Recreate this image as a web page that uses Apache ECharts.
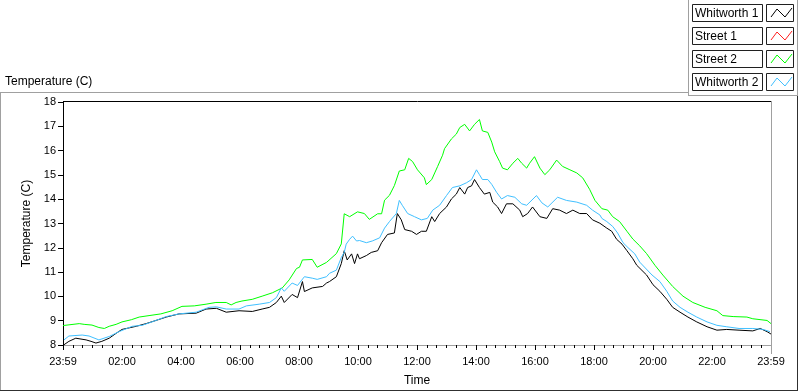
<!DOCTYPE html>
<html>
<head>
<meta charset="utf-8">
<script src="https://cdn.jsdelivr.net/npm/echarts@6/dist/echarts.min.js"></script>
<style>
html,body{margin:0;padding:0;background:#fff;}
#chart{width:800px;height:392px;}
</style>
</head>
<body>
<div id="chart"></div>
<script>
// ---- data (minutes since 23:59, temperature in C) ----
const xTickLabels = ['23:59','02:00','04:00','06:00','08:00','10:00','12:00','14:00','16:00','18:00','20:00','22:00','23:59'];
const seriesNames = ['Whitworth 1','Street 1','Street 2','Whitworth 2'];
const seriesColors = ['#000000','#ff2020','#00ff00','#40c0ff'];

const whitworth1 = [[2,8.01],[12,8.15],[26,8.28],[47,8.21],[57,8.15],[67,8.08],[79,8.15],[94,8.28],[108,8.48],[120,8.64],[149,8.77],[169,8.88],[189,9.01],[210,9.15],[236,9.28],[271,9.31],[291,9.48],[312,9.51],[332,9.35],[358,9.41],[385,9.38],[405,9.48],[420,9.55],[434,9.75],[444,10.01],[450,9.75],[466,10.08],[477,9.95],[487,10.61],[491,10.2],[507,10.35],[528,10.41],[536,10.55],[542,10.61],[556,10.81],[566,11.35],[572,11.88],[578,11.5],[587,11.75],[593,11.35],[599,11.75],[603,11.55],[617,11.68],[627,11.81],[640,11.88],[648,12.21],[660,12.55],[674,12.61],[680,13.41],[688,13.15],[695,12.75],[709,12.68],[719,12.55],[729,12.68],[739,12.68],[750,13.28],[756,13.08],[766,13.41],[780,13.68],[790,14.01],[800,14.21],[807,14.48],[817,14.21],[823,14.48],[831,14.55],[837,14.81],[841,14.88],[847,14.48],[857,14.21],[868,14.28],[874,13.88],[884,13.68],[892,13.41],[902,13.81],[915,13.81],[929,13.55],[935,13.28],[945,13.41],[955,13.68],[970,13.28],[984,13.21],[996,13.61],[1010,13.55],[1024,13.41],[1037,13.55],[1051,13.41],[1065,13.41],[1077,13.15],[1092,13.01],[1106,12.81],[1116,12.68],[1126,12.35],[1137,12.15],[1147,11.88],[1159,11.55],[1167,11.28],[1187,10.88],[1200,10.48],[1214,10.21],[1228,9.88],[1240,9.55],[1255,9.35],[1271,9.15],[1289,8.95],[1310,8.75],[1330,8.61],[1350,8.64],[1375,8.61],[1403,8.58],[1418,8.68],[1432,8.55],[1440,8.45]];

const street1 = [];

const street2 = [[0,8.8],[33,8.88],[37,8.95],[43,8.85],[59,8.82],[73,8.72],[84,8.68],[94,8.77],[108,8.85],[120,8.95],[139,9.04],[155,9.15],[175,9.21],[199,9.28],[222,9.41],[242,9.59],[267,9.61],[291,9.68],[311,9.75],[332,9.75],[342,9.65],[352,9.75],[364,9.81],[385,9.88],[405,10.01],[426,10.15],[446,10.35],[460,10.68],[475,11.15],[481,11.2],[487,11.5],[507,11.52],[517,11.2],[536,11.4],[556,11.76],[566,12.16],[572,13.4],[583,13.28],[599,13.48],[613,13.41],[623,13.17],[640,13.4],[648,13.4],[654,13.96],[664,14.16],[674,14.56],[684,15.16],[695,15.21],[703,15.68],[711,15.55],[721,15.21],[735,14.88],[739,14.6],[750,14.81],[756,15.08],[762,15.35],[772,15.81],[776,16.08],[790,16.48],[800,16.68],[807,16.95],[817,17.08],[827,16.81],[837,17.08],[847,17.28],[853,16.81],[864,16.75],[872,16.35],[878,15.95],[888,15.55],[894,15.28],[904,15.21],[915,15.48],[925,15.68],[933,15.48],[943,15.28],[949,15.48],[959,15.75],[970,15.28],[980,15.01],[990,15.21],[1004,15.61],[1016,15.35],[1031,15.21],[1045,15.08],[1057,14.88],[1071,14.41],[1082,13.95],[1096,13.61],[1108,13.55],[1118,13.28],[1132,13.08],[1147,12.68],[1159,12.36],[1173,12.08],[1187,11.76],[1204,11.28],[1220,10.88],[1240,10.41],[1261,10.01],[1281,9.75],[1306,9.55],[1330,9.41],[1342,9.21],[1363,9.17],[1391,9.15],[1403,9.08],[1432,9.01],[1440,8.88]];

const whitworth2 = [[2,8.21],[12,8.37],[39,8.41],[53,8.37],[73,8.21],[94,8.35],[114,8.55],[141,8.77],[161,8.81],[189,9.01],[210,9.17],[236,9.28],[271,9.35],[297,9.55],[312,9.57],[332,9.48],[358,9.48],[373,9.61],[399,9.68],[420,9.75],[434,9.95],[444,10.35],[450,10.21],[466,10.55],[477,10.45],[491,10.81],[507,10.75],[517,10.7],[536,10.81],[542,10.95],[556,11.08],[566,11.6],[572,11.81],[576,12.15],[583,12.35],[589,12.48],[597,12.28],[603,12.3],[617,12.21],[629,12.28],[644,12.41],[654,12.81],[664,13.08],[678,13.41],[684,13.95],[690,13.75],[701,13.41],[715,13.28],[729,13.15],[741,13.21],[752,13.55],[766,13.75],[780,14.15],[792,14.48],[807,14.55],[821,14.68],[831,14.81],[841,15.21],[847,15.01],[853,14.81],[864,14.81],[872,14.61],[882,14.28],[892,14.01],[904,14.15],[919,14.08],[933,13.81],[943,13.75],[963,14.15],[974,13.85],[986,13.68],[1006,14.08],[1024,13.95],[1045,13.88],[1065,13.75],[1077,13.55],[1092,13.35],[1096,13.21],[1106,13.08],[1118,12.88],[1128,12.61],[1139,12.21],[1149,12.01],[1163,11.75],[1173,11.41],[1198,10.88],[1214,10.61],[1228,10.21],[1240,9.81],[1255,9.55],[1271,9.35],[1289,9.15],[1310,8.95],[1330,8.81],[1350,8.75],[1375,8.68],[1403,8.68],[1424,8.64],[1438,8.55]];

const allData = [whitworth1, street1, street2, whitworth2];

// ---- chart ----
const FONT = '"Liberation Sans", Arial, sans-serif';
const chart = echarts.init(document.getElementById('chart'), null, {renderer:'canvas'});

const PL = 63, PT = 102, PR = 771, PB = 353; // plot frame
const graphics = [
  // outer panel frame
  {type:'line', shape:{x1:0, y1:92.5, x2:688, y2:92.5}, style:{stroke:'#a0a0a0', lineWidth:1}},
  {type:'line', shape:{x1:0.5, y1:92, x2:0.5, y2:391}, style:{stroke:'#a0a0a0', lineWidth:1}},
  {type:'line', shape:{x1:0, y1:390.5, x2:798, y2:390.5}, style:{stroke:'#303030', lineWidth:1}},
  {type:'line', shape:{x1:797.5, y1:95, x2:797.5, y2:391}, style:{stroke:'#303030', lineWidth:1}},
  // legend panel frame
  {type:'line', shape:{x1:688.5, y1:0, x2:688.5, y2:95}, style:{stroke:'#a0a0a0', lineWidth:1}},
  {type:'line', shape:{x1:688, y1:95.5, x2:798, y2:95.5}, style:{stroke:'#a0a0a0', lineWidth:1}},
  {type:'line', shape:{x1:797.5, y1:0, x2:797.5, y2:95}, style:{stroke:'#a0a0a0', lineWidth:1}},
  // plot frame top / right
  {type:'line', shape:{x1:PL, y1:PT-0.5, x2:PR+1, y2:PT-0.5}, style:{stroke:'#000', lineWidth:1}, z:10},
  {type:'line', shape:{x1:PR+0.5, y1:PT-1, x2:PR+0.5, y2:PB+1}, style:{stroke:'#a0a0a0', lineWidth:1}, z:10}
];
seriesNames.forEach((name, i) => {
  const top = 4 + 23 * i;
  graphics.push({type:'rect', shape:{x:692.5, y:top+0.5, width:70, height:17}, style:{fill:'#fff', stroke:'#202020', lineWidth:1}});
  graphics.push({type:'text', style:{text:name, x:695, y:top+9.5, fill:'#000', font:'12px ' + FONT, textVerticalAlign:'middle', verticalAlign:'middle'}});
  graphics.push({type:'rect', shape:{x:766.5, y:top+0.5, width:27, height:17}, style:{fill:'#fff', stroke:'#202020', lineWidth:1}});
  graphics.push({type:'polyline', shape:{points:[[771,top+13],[777,top+5],[785,top+13],[792,top+4]]}, style:{stroke:seriesColors[i], fill:null, lineWidth:1}});
});

const option = {
  animation: false,
  backgroundColor: '#ffffff',
  textStyle: {fontFamily: FONT},
  title: {
    text: 'Temperature (C)', left: 0, top: 71,
    textStyle: {fontSize: 12, fontWeight: 'normal', color: '#000', fontFamily: FONT}
  },
  legend: {show: false, data: seriesNames},
  grid: {left: PL, top: PT, right: 800 - PR, bottom: 392 - PB, containLabel: false},
  xAxis: {
    type: 'value', min: 0, max: 1440, interval: 120,
    name: 'Time', nameLocation: 'middle', nameGap: 30,
    nameTextStyle: {fontSize: 12, color: '#000', fontFamily: FONT},
    axisLine: {show: true, onZero: false, lineStyle: {color: '#a0a0a0', width: 1}},
    axisTick: {show: true, length: 5, lineStyle: {color: '#000'}},
    minorTick: {show: true, splitNumber: 6, length: 3, lineStyle: {color: '#000'}},
    axisLabel: {
      show: true, margin: 11, fontSize: 11, color: '#000', fontFamily: FONT,
      showMinLabel: true, showMaxLabel: true,
      formatter: v => xTickLabels[Math.round(v / 120)]
    },
    splitLine: {show: false}
  },
  yAxis: {
    type: 'value', min: 8, max: 18, interval: 1,
    name: 'Temperature (C)', nameLocation: 'middle', nameGap: 22,
    nameTextStyle: {fontSize: 12, color: '#000', fontFamily: FONT},
    axisLine: {show: true, lineStyle: {color: '#000', width: 1}},
    axisTick: {show: true, length: 5, lineStyle: {color: '#000'}},
    axisLabel: {margin: 7, fontSize: 11, color: '#000', fontFamily: FONT},
    splitLine: {show: false}
  },
  series: seriesNames.map((name, i) => ({
    name: name, type: 'line', data: allData[i],
    showSymbol: false, symbol: 'none',
    lineStyle: {color: seriesColors[i], width: 1},
    itemStyle: {color: seriesColors[i]},
    emphasis: {disabled: true}
  })),
  graphic: graphics
};
chart.setOption(option);
</script>
</body>
</html>
